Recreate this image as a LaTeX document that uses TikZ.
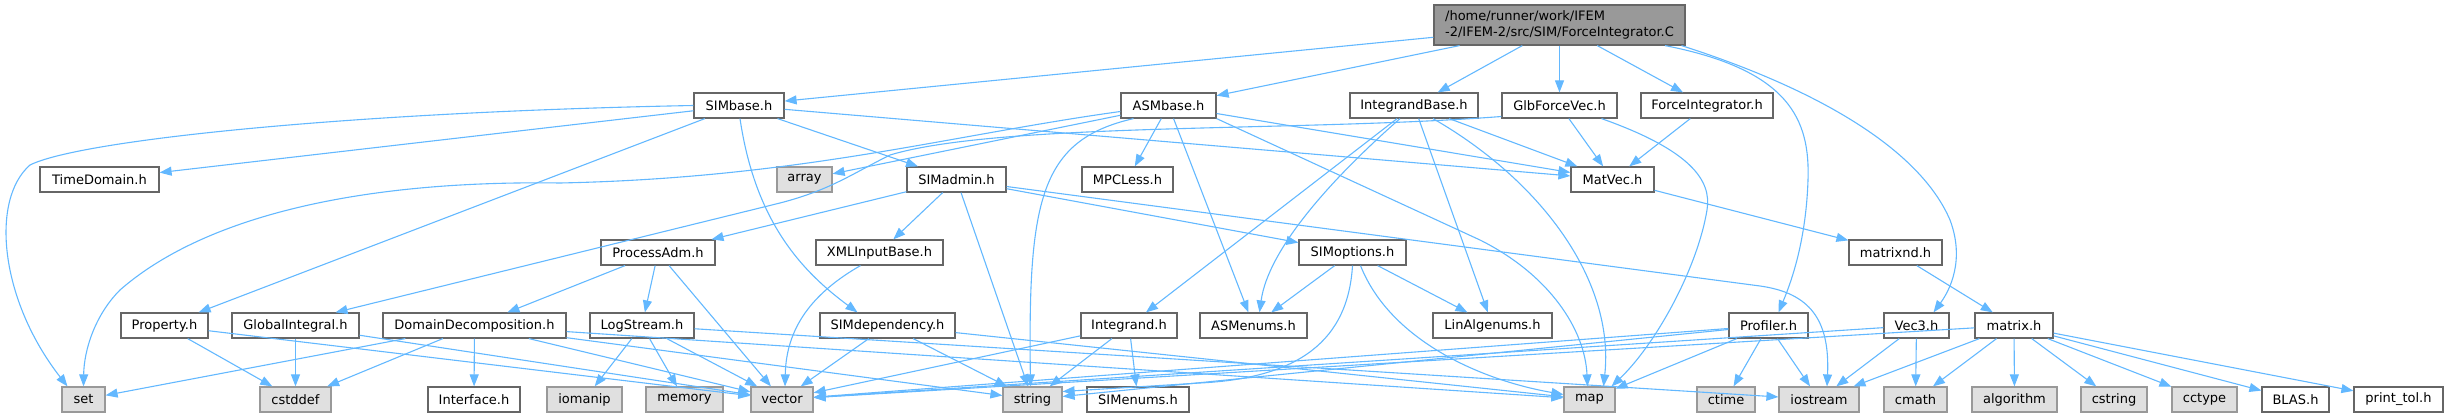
\documentclass[tikz,border=0pt]{standalone}
\usepackage{fontspec}
\setmainfont{DejaVu Sans}
\usetikzlibrary{arrows.meta}
\definecolor{edgec}{HTML}{63B8FF}
\definecolor{nodeb}{HTML}{666666}
\definecolor{extf}{HTML}{E0E0E0}
\definecolor{extb}{HTML}{999999}
\definecolor{rootf}{HTML}{999999}
\begin{document}
\begin{tikzpicture}[x=1pt,y=-1pt,
  box/.style={draw=nodeb, fill=white, line width=1.2pt, minimum height=25pt, inner sep=0pt, font=\fontsize{13}{15.5}\selectfont},
  ext/.style={box, draw=extb, fill=extf},
  rootbox/.style={box, fill=rootf, minimum height=40pt, align=left},
  edge/.style={draw=edgec, line width=1.1pt, -{Triangle[length=12pt,width=9pt]}}]
\useasboundingbox (0,0) rectangle (2448,417);
% row 0
\node[rootbox, minimum width=251pt] (root) at (1559.5,25) {/home/runner/work/IFEM\\-2/IFEM-2/src/SIM/ForceIntegrator.C};
% row 1
\node[box, minimum width=90pt] (SIMbase) at (739,105.5) {SIMbase.h};
\node[box, minimum width=95pt] (ASMbase) at (1168.5,105.5) {ASMbase.h};
\node[box, minimum width=128pt] (IntegrandBase) at (1414,105.5) {IntegrandBase.h};
\node[box, minimum width=115pt] (GlbForceVec) at (1559.5,105.5) {GlbForceVec.h};
\node[box, minimum width=132pt] (ForceIntegrator) at (1707,105.5) {ForceIntegrator.h};
% row 2
\node[box, minimum width=119pt] (TimeDomain) at (99.5,179.5) {TimeDomain.h};
\node[ext, minimum width=55pt] (array) at (804.5,179.5) {array};
\node[box, minimum width=99pt] (SIMadmin) at (956.5,179.5) {SIMadmin.h};
\node[box, minimum width=91pt] (MPCLess) at (1127.5,179.5) {MPCLess.h};
\node[box, minimum width=83pt] (MatVec) at (1612.5,179.5) {MatVec.h};
% row 3
\node[box, minimum width=114pt] (ProcessAdm) at (658,252.5) {ProcessAdm.h};
\node[box, minimum width=127pt] (XMLInputBase) at (879.5,252.5) {XMLInputBase.h};
\node[box, minimum width=107pt] (SIMoptions) at (1352.5,252.5) {SIMoptions.h};
\node[box, minimum width=93pt] (matrixnd) at (1895.5,252.5) {matrixnd.h};
% row 4
\node[box, minimum width=87pt] (Property) at (164.5,325.5) {Property.h};
\node[box, minimum width=127pt] (GlobalIntegral) at (295.5,325.5) {GlobalIntegral.h};
\node[box, minimum width=183pt] (DD) at (474.5,325.5) {DomainDecomposition.h};
\node[box, minimum width=104pt] (LogStream) at (642,325.5) {LogStream.h};
\node[box, minimum width=135pt] (SIMdependency) at (887.5,325.5) {SIMdependency.h};
\node[box, minimum width=96pt] (Integrand) at (1129,325.5) {Integrand.h};
\node[box, minimum width=107pt] (ASMenums) at (1253.5,325.5) {ASMenums.h};
\node[box, minimum width=119pt] (LinAlgenums) at (1492.5,325.5) {LinAlgenums.h};
\node[box, minimum width=79pt] (Profiler) at (1768.5,325.5) {Profiler.h};
\node[box, minimum width=65pt] (Vec3) at (1916.5,325.5) {Vec3.h};
\node[box, minimum width=78pt] (matrix) at (2014,325.5) {matrix.h};
% row 5
\node[ext, minimum width=43pt] (set) at (83.5,399.5) {set};
\node[ext, minimum width=71pt] (cstddef) at (295.5,399.5) {cstddef};
\node[box, minimum width=92pt] (Interface) at (474,399.5) {Interface.h};
\node[ext, minimum width=75pt] (iomanip) at (584.5,399.5) {iomanip};
\node[ext, minimum width=77pt] (memory) at (684.5,399.5) {memory};
\node[ext, minimum width=62pt] (vector) at (782,399.5) {vector};
\node[ext, minimum width=59pt] (string) at (1032.5,399.5) {string};
\node[box, minimum width=102pt] (SIMenums) at (1138,399.5) {SIMenums.h};
\node[ext, minimum width=51pt] (map) at (1589.5,399.5) {map};
\node[ext, minimum width=58pt] (ctime) at (1726,399.5) {ctime};
\node[ext, minimum width=80pt] (iostream) at (1819,399.5) {iostream};
\node[ext, minimum width=63pt] (cmath) at (1915.5,399.5) {cmath};
\node[ext, minimum width=85pt] (algorithm) at (2014.5,399.5) {algorithm};
\node[ext, minimum width=66pt] (cstring) at (2114,399.5) {cstring};
\node[ext, minimum width=65pt] (cctype) at (2204.5,399.5) {cctype};
\node[box, minimum width=67pt] (BLAS) at (2295.5,399.5) {BLAS.h};
\node[box, minimum width=89pt] (printtol) at (2398.5,399.5) {print\_tol.h};

% straight edges
\foreach \a/\b in {root/SIMbase, root/ASMbase, root/IntegrandBase, root/GlbForceVec, root/ForceIntegrator,
  SIMbase/TimeDomain, SIMbase/Property, SIMbase/SIMadmin, SIMbase/MatVec,
  ASMbase/array, ASMbase/MatVec, ASMbase/MPCLess, ASMbase/ASMenums,
  IntegrandBase/Integrand, IntegrandBase/LinAlgenums, IntegrandBase/MatVec,
  GlbForceVec/MatVec, ForceIntegrator/MatVec,
  SIMadmin/ProcessAdm, SIMadmin/XMLInputBase, SIMadmin/SIMoptions, SIMadmin/string,
  MatVec/matrixnd, matrixnd/matrix,
  ProcessAdm/DD, ProcessAdm/LogStream, ProcessAdm/vector,
  SIMoptions/ASMenums, SIMoptions/LinAlgenums,
  Property/cstddef, Property/vector, GlobalIntegral/cstddef, GlobalIntegral/vector,
  DD/set, DD/cstddef, DD/Interface, DD/vector, DD/map, DD/string,
  LogStream/iomanip, LogStream/memory, LogStream/vector, LogStream/iostream,
  SIMdependency/vector, SIMdependency/string, SIMdependency/map,
  Integrand/vector, Integrand/string, Integrand/SIMenums,
  Profiler/vector, Profiler/string, Profiler/map, Profiler/ctime, Profiler/iostream,
  Vec3/vector, Vec3/iostream, Vec3/cmath,
  matrix/vector, matrix/iostream, matrix/cmath, matrix/algorithm, matrix/cstring, matrix/cctype, matrix/BLAS, matrix/printtol}
  \draw[edge] (\a) -- (\b);

% curved edges
\draw[edge] ([xshift=-14pt]IntegrandBase.south) .. controls (1330,180) and (1268,250) .. ([xshift=6pt]ASMenums.north);
\draw[edge] (SIMbase.west) .. controls (350,112) and (80,140) .. (30,165) .. controls (-10,200) and (0,300) .. ([xshift=-16pt]set.north);
\draw[edge] ([yshift=-6pt]ASMbase.west) .. controls (950,135) and (800,178) .. (560,183) .. controls (350,180) and (200,220) .. (120,290) .. controls (95,315) and (84,350) .. (set.north);
\draw[edge] ([yshift=-11pt]GlbForceVec.west) .. controls (1300,132) and (1000,122) .. (890,155) .. controls (850,175) and (830,190) .. (780,203) -- ([xshift=40pt]GlobalIntegral.north);
\draw[edge] ([xshift=-35pt]ASMbase.south) .. controls (1040,140) and (1028,200) .. ([xshift=-2pt]string.north);
\draw[edge] ([xshift=1pt]SIMbase.south) .. controls (755,220) and (800,270) .. ([xshift=-30pt]SIMdependency.north);
\draw[edge] ([xshift=-19pt]XMLInputBase.south) .. controls (800,300) and (786,340) .. ([xshift=3pt]vector.north);
\draw[edge] ([yshift=-7pt]SIMadmin.east) -- (1760,286) .. controls (1810,293) and (1830,320) .. ([xshift=8pt]iostream.north);
\draw[edge] (SIMoptions.south) .. controls (1348,340) and (1300,378) .. (1200,383) -- ([yshift=8pt]string.east);
\draw[edge] ([xshift=8pt]SIMoptions.south) .. controls (1390,340) and (1480,380) .. ([yshift=5pt]map.west);
\draw[edge] ([xshift=19pt]IntegrandBase.south) .. controls (1540,180) and (1615,280) .. ([xshift=14pt]map.north);
\draw[edge] (ASMbase.south east) -- (1480,240) .. controls (1550,275) and (1585,330) .. ([xshift=-2pt]map.north);
\draw[edge] ([xshift=42pt]GlbForceVec.south) .. controls (1690,150) and (1712,180) .. (1707,210) .. controls (1697,270) and (1655,345) .. ([xshift=22pt]map.north);
\draw[edge] ([xshift=105.5pt]root.south) .. controls (1790,70) and (1810,120) .. (1808,180) .. controls (1806,240) and (1792,280) .. ([xshift=10pt]Profiler.north);
\draw[edge] ([xshift=122pt]root.south) .. controls (1820,90) and (1920,150) .. (1950,220) .. controls (1965,260) and (1950,290) .. ([xshift=17pt]Vec3.north);
\end{tikzpicture}
\end{document}
